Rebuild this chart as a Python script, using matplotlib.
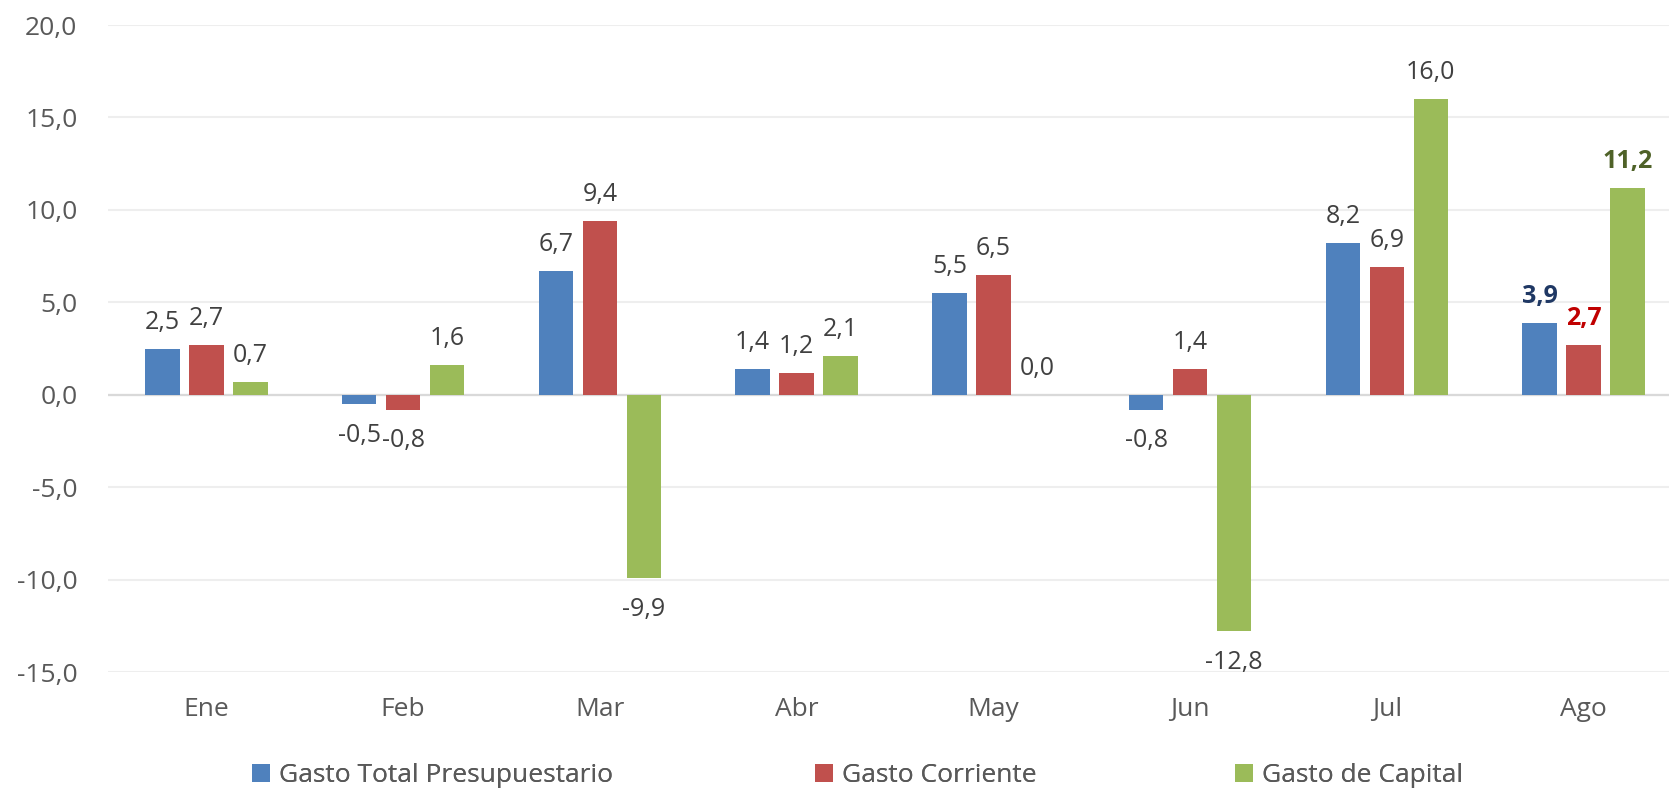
import numpy as np
from matplotlib import pyplot as plt

meses = ["Ene", "Feb", "Mar", "Abr", "May", "Jun", "Jul", "Ago"]
gasto_total = [2.5, -0.5, 6.7, 1.4, 5.5, -0.8, 8.2, 3.9]
gasto_corriente = [2.7, -0.8, 9.4, 1.2, 6.5, 1.4, 6.9, 2.7]
gasto_capital = [0.7, 1.6, -9.9, 2.1, 0.0, -12.8, 16.0, 11.2]
series_names = ["Gasto Total Presupuestario", "Gasto Corriente", "Gasto de Capital"]
yticks = [-15, -10, -5, 0, 5, 10, 15, 20]

colors = ["#4F81BD", "#C0504D", "#9BBB59"]
last_colors = ["#1F3864", "#C00000", "#4F6228"]

plt.rcParams["font.family"] = "Open Sans"

fig = plt.figure(figsize=(16.69, 7.92), dpi=100)
# plot area runs a little past the right edge (reference is cropped)
ax = fig.add_axes([0.0647, 0.1515, 0.9431, 0.8169])

lab_size = 18
x = np.arange(len(meses))
step = 0.2235
width = 0.175
handles = []
for i, vals in enumerate([gasto_total, gasto_corriente, gasto_capital]):
    pos = x + (i - 1) * step
    b = ax.bar(pos, vals, width, color=colors[i], label=series_names[i], zorder=3)
    handles.append(b)
    for j, (p, v) in enumerate(zip(pos, vals)):
        txt = f"{v:.1f}".replace(".", ",")
        last = j == len(vals) - 1
        # offsets in points (dpi 100): gap of ~20 px between bar end and digits
        off = 14.4 if v >= 0 else -14.4 - 0.714 * lab_size
        ax.annotate(
            txt,
            (p, v),
            xytext=(0, off),
            textcoords="offset points",
            ha="center",
            va="baseline",
            fontsize=lab_size,
            color=last_colors[i] if last else "#404040",
            fontweight="bold" if last else "normal",
            zorder=4,
        )

ax.set_xlim(-0.5, len(meses) - 0.5)
ax.set_ylim(-15, 20)
ax.set_yticks(yticks)
ax.set_yticklabels([f"{t:.1f}".replace(".", ",") for t in yticks])
ax.set_xticks(x)
ax.set_xticklabels(meses)
ax.tick_params(axis="y", length=0, labelsize=19, colors="#595959", pad=22)
ax.tick_params(axis="x", length=0, labelsize=19, colors="#595959", pad=18)

for s in ax.spines.values():
    s.set_visible(False)
ax.grid(axis="y", color="#EEEEEE", linewidth=1.5, zorder=0)
ax.axhline(0, color="#D9D9D9", linewidth=1.6, zorder=2)

# one legend entry each so the positions match the reference
legend_x = [252 / 1669, 815 / 1669, 1235 / 1669]
for h, name, lx in zip(handles, series_names, legend_x):
    lg = fig.legend(
        [h],
        [name],
        loc="center left",
        bbox_to_anchor=(lx, 1 - 776 / 792),
        frameon=False,
        fontsize=19,
        labelcolor="#595959",
        handlelength=0.68,
        handleheight=0.68,
        handletextpad=0.34,
        borderpad=0,
        borderaxespad=0,
    )
    fig.add_artist(lg)

fig.savefig("out.png", dpi=100)
